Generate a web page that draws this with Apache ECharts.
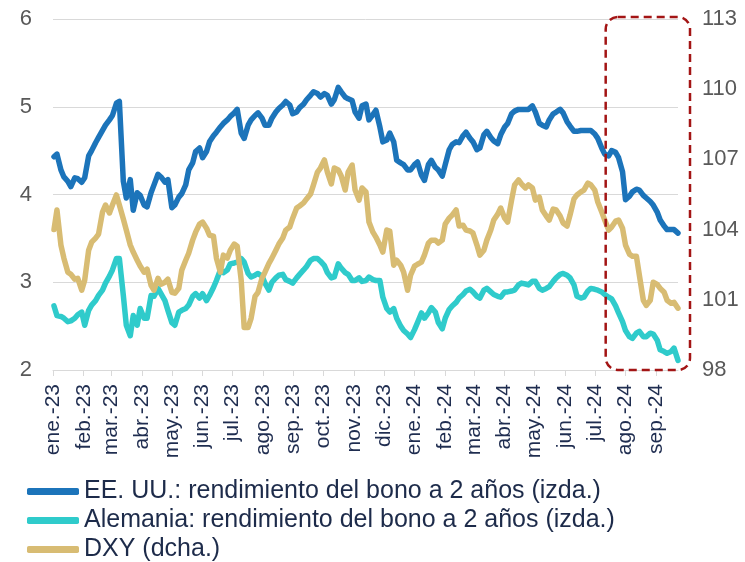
<!DOCTYPE html>
<html>
<head>
<meta charset="utf-8">
<script src="https://cdn.jsdelivr.net/npm/echarts@6/dist/echarts.min.js"></script>
<style>
  html, body { margin: 0; padding: 0; background: #ffffff; }
  #chart { width: 745px; height: 562px; }
</style>
</head>
<body>
<div id="chart"></div>
<script>
// etiquetas de meses (eje X)
const monthLabels = ['ene.-23', 'feb.-23', 'mar.-23', 'abr.-23', 'may.-23', 'jun.-23', 'jul.-23',
  'ago.-23', 'sep.-23', 'oct.-23', 'nov.-23', 'dic.-23', 'ene.-24', 'feb.-24', 'mar.-24',
  'abr.-24', 'may.-24', 'jun.-24', 'jul.-24', 'ago.-24', 'sep.-24']

// datos dos veces por semana (lunes y jueves) desde 2023-01-02
const usYield = [4.43, 4.46, 4.28, 4.20, 4.15, 4.09, 4.19, 4.18, 4.14, 4.19,
  4.44, 4.50, 4.59, 4.65, 4.73, 4.79, 4.85, 4.90, 5.04, 5.06,
  4.15, 3.96, 4.17, 3.82, 4.02, 3.99, 3.88, 3.86, 4.02, 4.11,
  4.23, 4.20, 4.14, 4.17, 3.85, 3.88, 3.97, 4.01, 4.11, 4.28,
  4.36, 4.49, 4.53, 4.42, 4.49, 4.60, 4.67, 4.71, 4.77, 4.81,
  4.85, 4.89, 4.93, 4.97, 4.70, 4.64, 4.79, 4.85, 4.90, 4.93,
  4.87, 4.79, 4.79, 4.87, 4.94, 4.98, 5.02, 5.06, 5.02, 4.92,
  4.94, 4.99, 5.03, 5.08, 5.13, 5.17, 5.15, 5.11, 5.15, 5.13,
  5.03, 5.08, 5.22, 5.17, 5.11, 5.09, 5.07, 4.94, 4.87, 5.01,
  5.03, 4.85, 4.91, 4.96, 4.77, 4.60, 4.62, 4.70, 4.60, 4.39,
  4.36, 4.34, 4.28, 4.28, 4.34, 4.37, 4.22, 4.16, 4.34, 4.39,
  4.31, 4.28, 4.21, 4.34, 4.51, 4.57, 4.60, 4.59, 4.67, 4.71,
  4.64, 4.60, 4.51, 4.53, 4.68, 4.72, 4.65, 4.61, 4.58, 4.68,
  4.77, 4.81, 4.92, 4.95, 4.97, 4.97, 4.97, 4.97, 5.01, 4.94,
  4.81, 4.79, 4.77, 4.85, 4.92, 4.94, 4.97, 4.93, 4.83, 4.78,
  4.72, 4.72, 4.73, 4.73, 4.73, 4.73, 4.69, 4.64, 4.53, 4.46,
  4.44, 4.50, 4.48, 4.42, 4.26, 3.94, 3.98, 4.03, 4.06, 4.05,
  3.99, 3.96, 3.92, 3.88, 3.80, 3.71, 3.64, 3.60, 3.60, 3.60,
  3.56]

const deYield = [2.73, 2.62, 2.61, 2.59, 2.55, 2.56, 2.59, 2.63, 2.66, 2.51,
  2.68, 2.74, 2.79, 2.85, 2.91, 2.99, 3.07, 3.14, 3.27, 3.27,
  2.85, 2.51, 2.39, 2.62, 2.51, 2.70, 2.59, 2.59, 2.85, 2.84,
  2.93, 2.87, 2.79, 2.68, 2.54, 2.51, 2.66, 2.68, 2.70, 2.74,
  2.84, 2.87, 2.82, 2.87, 2.79, 2.85, 2.94, 3.02, 3.14, 3.11,
  3.14, 3.21, 3.22, 3.23, 3.27, 3.23, 3.10, 3.06, 3.08, 3.10,
  3.07, 2.99, 2.91, 3.00, 3.05, 3.08, 3.09, 3.03, 3.01, 2.99,
  3.05, 3.09, 3.14, 3.18, 3.25, 3.27, 3.27, 3.24, 3.19, 3.11,
  3.05, 3.06, 3.21, 3.16, 3.11, 3.09, 3.02, 3.02, 3.05, 3.01,
  3.02, 3.06, 3.03, 3.02, 3.02, 2.83, 2.70, 2.66, 2.70, 2.59,
  2.50, 2.45, 2.41, 2.37, 2.46, 2.54, 2.65, 2.59, 2.65, 2.71,
  2.66, 2.54, 2.47, 2.59, 2.69, 2.73, 2.77, 2.82, 2.86, 2.90,
  2.92, 2.89, 2.84, 2.82, 2.91, 2.93, 2.89, 2.86, 2.84, 2.83,
  2.89, 2.89, 2.90, 2.91, 2.97, 2.99, 2.98, 2.97, 3.01, 3.01,
  2.93, 2.91, 2.93, 2.95, 3.01, 3.05, 3.09, 3.10, 3.08, 3.05,
  2.97, 2.84, 2.82, 2.83, 2.90, 2.93, 2.92, 2.91, 2.89, 2.86,
  2.83, 2.81, 2.73, 2.65, 2.55, 2.45, 2.38, 2.36, 2.42, 2.44,
  2.38, 2.38, 2.42, 2.41, 2.34, 2.23, 2.21, 2.19, 2.21, 2.25,
  2.11]

const dxy = [104.00, 104.84, 103.34, 102.78, 102.18, 102.09, 101.88, 101.92, 101.41, 101.84,
  103.12, 103.46, 103.64, 103.81, 104.75, 105.05, 104.71, 105.05, 105.48, 105.05,
  104.45, 103.98, 103.34, 103.04, 102.69, 102.44, 102.18, 102.31, 101.62, 101.41,
  101.92, 101.66, 101.75, 101.88, 101.32, 101.28, 101.49, 102.26, 102.69, 102.99,
  103.55, 103.89, 104.24, 104.32, 104.06, 103.76, 103.72, 102.78, 102.18, 102.91,
  102.78, 103.12, 103.38, 103.29, 101.84, 99.82, 99.82, 100.21, 101.15, 101.32,
  101.92, 102.18, 102.56, 102.78, 103.12, 103.38, 103.64, 103.98, 104.11, 104.49,
  104.92, 105.01, 105.14, 105.31, 105.52, 105.91, 106.46, 106.63, 106.98, 106.46,
  105.95, 106.63, 106.55, 106.29, 105.69, 106.46, 106.76, 105.69, 105.26, 105.78,
  105.61, 104.32, 103.89, 103.68, 103.34, 103.04, 103.98, 103.94, 102.48, 102.69,
  102.48, 102.18, 101.41, 102.05, 102.44, 102.52, 102.61, 102.91, 103.42, 103.55,
  103.55, 103.42, 103.55, 104.24, 104.49, 104.62, 104.84, 104.15, 104.19, 103.98,
  103.94, 103.85, 103.34, 102.91, 103.12, 103.55, 103.98, 104.41, 104.66, 104.92,
  104.49, 104.32, 105.26, 105.91, 106.12, 105.95, 105.78, 105.91, 105.78, 105.26,
  105.39, 104.84, 104.58, 104.41, 104.88, 104.84, 104.58, 104.28, 104.15, 104.62,
  105.31, 105.48, 105.61, 105.69, 105.99, 105.91, 105.69, 105.18, 104.75, 104.41,
  103.98, 104.11, 104.36, 104.41, 104.06, 103.34, 102.95, 102.86, 102.86, 102.05,
  100.98, 100.76, 100.98, 101.75, 101.66, 101.49, 101.32, 100.98, 100.85, 100.89,
  100.64]

const legendNames = ['EE. UU.: rendimiento del bono a 2 años (izda.)',
  'Alemania: rendimiento del bono a 2 años (izda.)', 'DXY (dcha.)']

function fmt (d) {
    return d.toISOString().slice(0, 10)
}

// eje de categorías diario
const days = []
for (let d = new Date(Date.UTC(2023, 0, 1)); d <= new Date(Date.UTC(2024, 8, 23)); d.setUTCDate(d.getUTCDate() + 1)) {
    days.push(fmt(d))
}
// fechas de observación: lunes y jueves
const obsDates = []
for (let i = 0; obsDates.length < usYield.length; i++) {
    obsDates.push(fmt(new Date(Date.UTC(2023, 0, 2 + 7 * i))))
    if (obsDates.length < usYield.length) {
        obsDates.push(fmt(new Date(Date.UTC(2023, 0, 5 + 7 * i))))
    }
}

const isMonthStart = (index, value) => value.slice(8) === '01'
const font = 'Liberation Sans, Arial, sans-serif'

function lineSeries (name, axis, color, values) {
    return {
        name: name,
        type: 'line',
        yAxisIndex: axis,
        showSymbol: false,
        symbol: 'none',
        color: color,
        lineStyle: { width: 5.5, cap: 'round', join: 'round' },
        data: obsDates.map((d, i) => [d, values[i]])
    }
}

const chart = echarts.init(document.getElementById('chart'))
chart.setOption({
    animation: false,
    grid: { left: 53, right: 67, top: 19, bottom: 192 },
    legend: {
        orient: 'vertical',
        left: 22,
        top: 476,
        height: 90,
        padding: [3, 5],
        itemWidth: 52,
        itemHeight: 7,
        itemGap: 4,
        icon: 'roundRect',
        textStyle: { fontFamily: font, fontSize: 25, lineHeight: 24, color: '#1D2B4A' },
        data: legendNames
    },
    xAxis: {
        type: 'category',
        data: days,
        boundaryGap: false,
        axisLine: { lineStyle: { color: '#D9D9D9', width: 1 } },
        axisTick: { interval: isMonthStart, length: 6, lineStyle: { color: '#D9D9D9' } },
        axisLabel: {
            interval: isMonthStart,
            rotate: 90,
            margin: 14,
            fontFamily: font,
            fontSize: 21,
            color: '#1F2D50',
            formatter: function (value) {
                const y = parseInt(value.slice(0, 4))
                const m = parseInt(value.slice(5, 7))
                return monthLabels[(y - 2023) * 12 + m - 1] || ''
            }
        },
        splitLine: { show: false }
    },
    yAxis: [{
        type: 'value',
        min: 2,
        max: 6,
        interval: 1,
        axisLine: { show: false },
        axisTick: { show: false },
        axisLabel: { fontFamily: font, fontSize: 22, color: '#595959', margin: 21 },
        splitLine: { lineStyle: { color: '#D9D9D9', width: 1 } }
    }, {
        type: 'value',
        min: 98,
        max: 113,
        interval: 3,
        axisLine: { show: false },
        axisTick: { show: false },
        axisLabel: { fontFamily: font, fontSize: 22, color: '#595959', margin: 24 },
        splitLine: { show: false }
    }],
    series: [
        lineSeries(legendNames[0], 0, '#1C74BA', usYield),
        lineSeries(legendNames[1], 0, '#2FCBCB', deYield),
        lineSeries(legendNames[2], 1, '#D8BC73', dxy)
    ]
})

// recuadro discontinuo sobre el último tramo
const boxLeft = chart.convertToPixel({ xAxisIndex: 0 }, '2024-07-12')
const boxTop = chart.convertToPixel({ yAxisIndex: 0 }, 6) - 2
const boxBottom = chart.convertToPixel({ yAxisIndex: 0 }, 2)
const boxRight = chart.convertToPixel({ xAxisIndex: 0 }, '2024-09-23') + 12
chart.setOption({
    graphic: [{
        type: 'rect',
        z: 100,
        shape: { x: boxLeft, y: boxTop, width: boxRight - boxLeft, height: boxBottom - boxTop, r: 12 },
        style: { fill: 'none', stroke: '#A31515', lineWidth: 2.5, lineDash: [8, 5] }
    }]
})
</script>
</body>
</html>
